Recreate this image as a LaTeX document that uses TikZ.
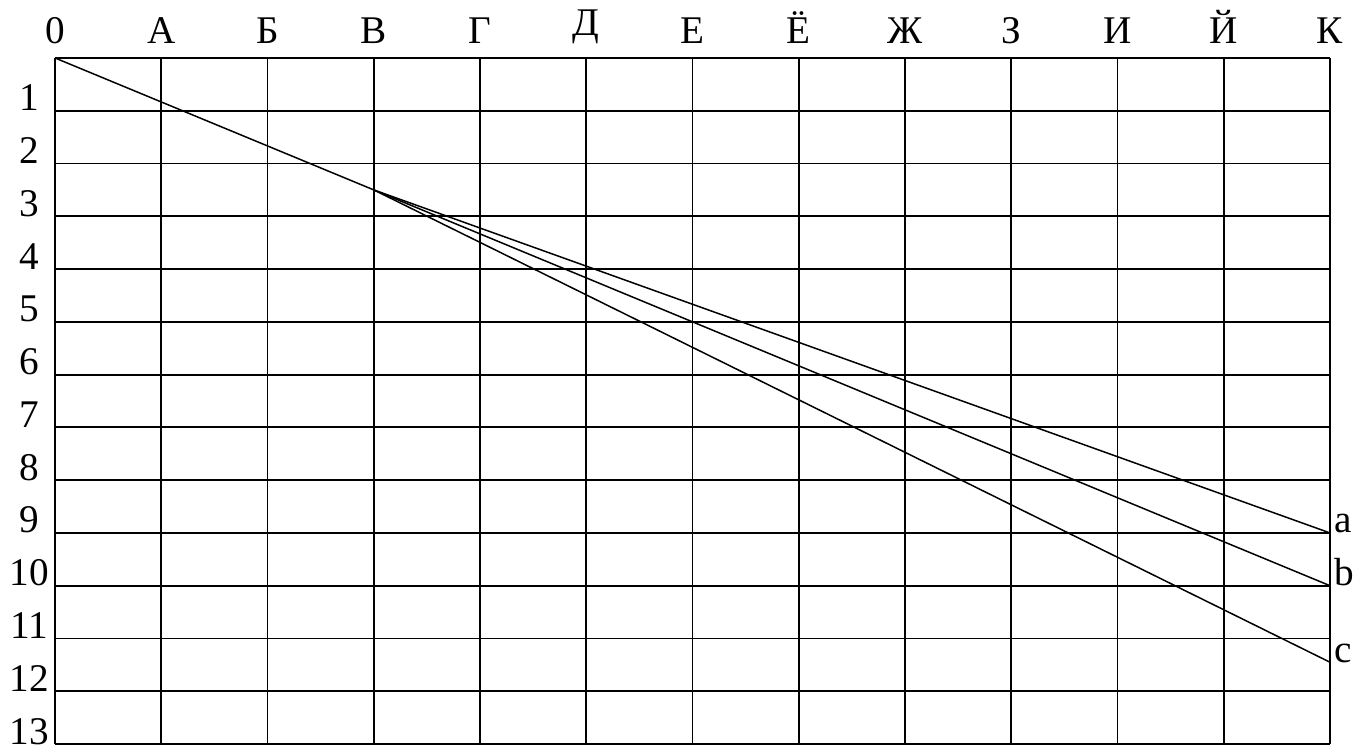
\documentclass[tikz,border=0pt]{standalone}
\usepackage{fontspec}
\setmainfont{Liberation Serif}
\usetikzlibrary{positioning}

\begin{document}
\begin{tikzpicture}[
    x=1cm,
    y=-0.4967cm,
    font=\fontsize{10.5}{12}\selectfont,
    grid line/.style={line width=0.5pt},
    ray/.style={line width=0.4pt},
    col label/.style={anchor=base,inner sep=0pt},
    row label/.style={anchor=base,inner sep=0pt},
    end label/.style={anchor=base west,inner sep=1pt}
]
\useasboundingbox (-0.518,-1.099) rectangle (12.367,13.17);

% Grid
\foreach \i in {0,...,12}
    \draw[grid line] (\i,0) -- (\i,13);
\foreach \j in {0,...,13}
    \draw[grid line] (0,\j) -- (12,\j);

% Column labels
\foreach \name/\up [count=\i from 0] in {0/0,А/0,Б/0,В/0,Г/0,Д/0.15,Е/0,Ё/0,Ж/0,З/0,И/0,Й/0,К/0}
    \node[col label] (col\i) at (\i,-0.28-\up) {\name};

% Row labels
\foreach \j in {1,...,13}
    \node[row label] (row\j) at (-0.24,\j) {\j};

% Points
\coordinate (o) at (0,0);
\coordinate (p) at (3,2.5);
\coordinate (ea) at (12,9);
\coordinate (eb) at (12,10);
\coordinate (ec) at (12,11.45);

% Rays
\draw[ray] (o) -- (eb);
\draw[ray] (p) -- (ea);
\draw[ray] (p) -- (ec);

% End labels
\node[end label] (a) at (ea) {a};
\node[end label] (b) at (eb) {b};
\node[end label] (c) at (ec) {c};

\end{tikzpicture}
\end{document}
